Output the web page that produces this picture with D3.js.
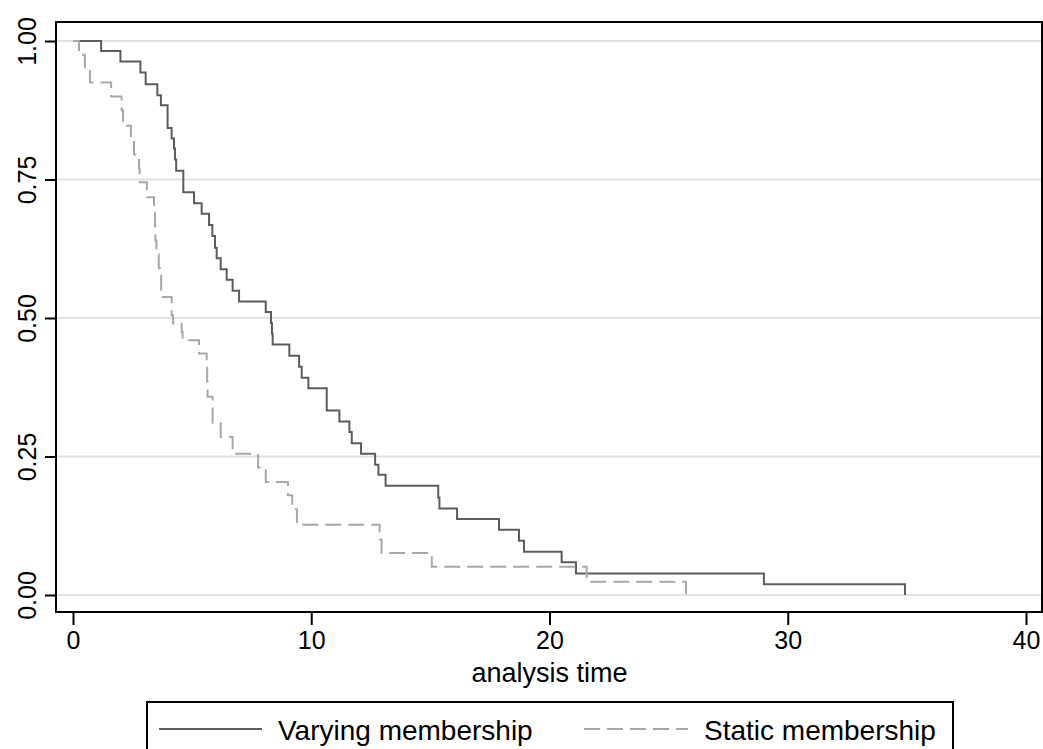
<!DOCTYPE html>
<html>
<head>
<meta charset="utf-8">
<script src="https://cdn.jsdelivr.net/npm/d3@7"></script>
<style>
  html, body { margin: 0; padding: 0; background: #ffffff; }
  svg { display: block; }
  text { font-family: "Liberation Sans", Arial, sans-serif; fill: #000; }
</style>
</head>
<body>
<svg id="chart" width="1043" height="749"></svg>
<script>
// ---- Data ----
const varyingTime = [0, 1.18, 1.99, 2.83, 3.05, 3.54, 3.69, 3.97, 4.14, 4.24, 4.28, 4.33, 4.63, 5.08, 5.40, 5.71, 5.85, 5.96, 6.03, 6.20, 6.45, 6.70, 6.97, 8.09, 8.31, 8.35, 8.38, 9.08, 9.49, 9.60, 9.88, 10.65, 11.18, 11.60, 11.70, 12.09, 12.68, 12.82, 13.12, 15.33, 15.38, 16.12, 17.88, 18.72, 18.93, 20.51, 21.11, 29.0, 34.92];
const varyingSurv = [1.0, 0.982, 0.963, 0.943, 0.922, 0.902, 0.884, 0.843, 0.824, 0.806, 0.786, 0.766, 0.727, 0.707, 0.688, 0.668, 0.648, 0.627, 0.608, 0.588, 0.569, 0.549, 0.530, 0.511, 0.491, 0.472, 0.452, 0.432, 0.412, 0.392, 0.373, 0.333, 0.313, 0.294, 0.274, 0.255, 0.235, 0.217, 0.197, 0.176, 0.156, 0.137, 0.118, 0.098, 0.078, 0.059, 0.039, 0.0195, 0.0];

const staticTime = [0, 0.25, 0.5, 0.71, 1.6, 2.04, 2.1, 2.43, 2.56, 2.77, 2.80, 3.10, 3.40, 3.44, 3.46, 3.50, 3.60, 3.70, 4.14, 4.20, 4.56, 4.60, 5.29, 5.61, 5.63, 5.65, 5.86, 6.20, 6.70, 7.77, 8.09, 9.02, 9.20, 9.40, 12.87, 12.95, 15.06, 21.56, 25.73];
const staticSurv = [1.0, 0.975, 0.950, 0.925, 0.900, 0.875, 0.847, 0.820, 0.795, 0.770, 0.745, 0.718, 0.690, 0.665, 0.640, 0.615, 0.590, 0.538, 0.505, 0.490, 0.475, 0.460, 0.436, 0.410, 0.385, 0.358, 0.310, 0.285, 0.255, 0.230, 0.204, 0.180, 0.155, 0.127, 0.100, 0.076, 0.051, 0.024, 0.0];

const xTicks = [0, 10, 20, 30, 40];
const yTicks = [0, 0.25, 0.5, 0.75, 1.0];
const yTickLabels = ["0.00", "0.25", "0.50", "0.75", "1.00"];
const xTitle = "analysis time";
const legendLabels = ["Varying membership", "Static membership"];

// ---- Layout ----
const svg = d3.select("#chart");
const frame = { left: 56, right: 1042, top: 22, bottom: 612 };

const x = d3.scaleLinear().domain([0, 40]).range([73, 1026]);
const y = d3.scaleLinear().domain([0, 1]).range([595, 41]);

// gridlines
svg.append("g")
  .selectAll("line")
  .data(yTicks)
  .join("line")
  .attr("x1", frame.left).attr("x2", frame.right)
  .attr("y1", d => y(d)).attr("y2", d => y(d))
  .attr("stroke", "#e2e2e2").attr("stroke-width", 2);

// curves
const line = d3.line()
  .x(d => x(d[0])).y(d => y(d[1]))
  .curve(d3.curveStepAfter);

const varyingData = varyingTime.map((t, i) => [t, varyingSurv[i]]);
const staticData = staticTime.map((t, i) => [t, staticSurv[i]]);

svg.append("path")
  .datum(varyingData)
  .attr("d", line)
  .attr("fill", "none")
  .attr("stroke", "#5c5c5c")
  .attr("stroke-width", 2);

svg.append("path")
  .datum(staticData)
  .attr("d", line)
  .attr("fill", "none")
  .attr("stroke", "#a8a8a8")
  .attr("stroke-width", 2)
  .attr("stroke-dasharray", "16,7");

// frame
svg.append("rect")
  .attr("x", frame.left).attr("y", frame.top)
  .attr("width", frame.right - frame.left)
  .attr("height", frame.bottom - frame.top)
  .attr("fill", "none").attr("stroke", "#000").attr("stroke-width", 2);

// x axis
const xAxis = d3.axisBottom(x).tickValues(xTicks).tickSize(13).tickPadding(6).tickFormat(d3.format("d"));
const gx = svg.append("g").attr("transform", `translate(0,${frame.bottom})`).call(xAxis);
gx.select(".domain").remove();
gx.selectAll(".tick line").attr("stroke", "#000").attr("stroke-width", 2);
gx.selectAll(".tick text")
  .attr("font-family", "Liberation Sans, Arial, sans-serif")
  .attr("font-size", 25).attr("fill", "#000");

// y axis
const yAxis = d3.axisLeft(y).tickValues(yTicks).tickSize(11).tickPadding(0)
  .tickFormat(d => yTickLabels[yTicks.indexOf(d)]);
const gy = svg.append("g").attr("transform", `translate(${frame.left},0)`).call(yAxis);
gy.select(".domain").remove();
gy.selectAll(".tick line").attr("stroke", "#000").attr("stroke-width", 2);
gy.selectAll(".tick text")
  .attr("font-family", "Liberation Sans, Arial, sans-serif")
  .attr("font-size", 25).attr("fill", "#000")
  .attr("text-anchor", "middle")
  .attr("dy", 0)
  .attr("x", 0)
  .attr("y", 0)
  .attr("transform", "translate(-20,0) rotate(-90)");

// x title
svg.append("text")
  .attr("x", x(20)).attr("y", 682)
  .attr("text-anchor", "middle")
  .attr("font-size", 27)
  .text(xTitle);

// legend
const lg = svg.append("g");
lg.append("rect")
  .attr("x", 147).attr("y", 702).attr("width", 806).attr("height", 80)
  .attr("fill", "#fff").attr("stroke", "#000").attr("stroke-width", 2);
lg.append("line")
  .attr("x1", 159).attr("x2", 262).attr("y1", 729).attr("y2", 729)
  .attr("stroke", "#5c5c5c").attr("stroke-width", 2);
lg.append("text").attr("x", 278).attr("y", 740).attr("font-size", 28).text(legendLabels[0]);
lg.append("line")
  .attr("x1", 584).attr("x2", 688).attr("y1", 729).attr("y2", 729)
  .attr("stroke", "#a8a8a8").attr("stroke-width", 2).attr("stroke-dasharray", "16,7");
lg.append("text").attr("x", 704).attr("y", 740).attr("font-size", 28).text(legendLabels[1]);
</script>
</body>
</html>
